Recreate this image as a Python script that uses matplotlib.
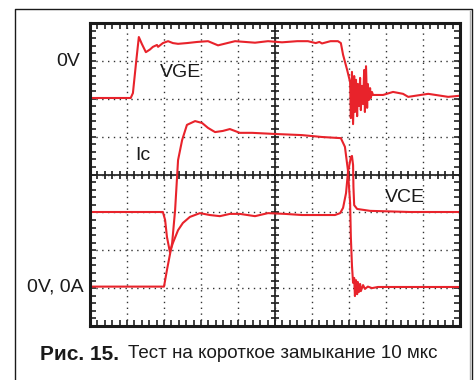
import numpy as np
import matplotlib
matplotlib.use("Agg")
import matplotlib.pyplot as plt
from matplotlib.lines import Line2D

# scope screen, x and y in divisions (10 x 8)
vge_x = [0, 1.10, 1.16, 1.25, 1.32, 1.40, 1.51, 1.62, 1.70, 1.81, 1.84, 1.97, 2.11, 2.24,
         2.38, 2.62, 2.90, 3.19, 3.46, 3.92, 4.46, 4.81, 5.19, 5.60, 5.89, 6.10, 6.20,
         6.27, 6.50, 6.70, 6.78, 6.84, 6.95, 7.03,
         7.05, 7.08, 7.11, 7.14, 7.16, 7.19, 7.22, 7.24, 7.27, 7.30, 7.32, 7.35, 7.38,
         7.41, 7.43, 7.46, 7.49, 7.51, 7.54, 7.57, 7.59, 7.62, 7.65,
         7.92, 8.19, 8.46, 8.60, 9.14, 9.68, 10.0]
vge_y = [6.02, 6.02, 6.15, 7.00, 7.63, 7.45, 7.23, 7.30, 7.37, 7.42, 7.37, 7.47, 7.52, 7.47,
         7.45, 7.47, 7.50, 7.52, 7.41, 7.52, 7.48, 7.52, 7.49, 7.52, 7.52, 7.47, 7.50,
         7.46, 7.52, 7.52, 7.47, 7.16, 6.76, 6.44,
         5.49, 6.71, 5.33, 6.60, 5.65, 6.50, 5.54, 6.39, 5.81, 6.55, 5.70, 6.34, 5.86,
         6.76, 5.65, 6.86, 5.76, 6.39, 5.97, 6.28, 6.02, 6.18, 6.10,
         6.10, 6.18, 6.13, 6.05, 6.13, 6.05, 6.08]

ic_x = [0, 2.00, 2.08, 2.22, 2.30, 2.38, 2.49, 2.62, 2.84, 3.03, 3.19, 3.38, 3.59, 3.78,
        4.05, 4.38, 5.00, 5.73, 6.27, 6.78, 6.89, 6.97, 7.03, 7.05, 7.08, 7.11,
        7.14, 7.16, 7.19, 7.22, 7.24, 7.27, 7.30, 7.32, 7.38, 7.43, 7.51, 7.62, 7.78, 10.0]
ic_y = [1.04, 1.04, 1.48, 2.19, 3.06, 4.38, 4.91, 5.31, 5.41, 5.36, 5.23, 5.12, 5.15, 5.20,
        5.10, 5.10, 5.07, 5.04, 4.99, 4.96, 4.73, 4.12, 3.25, 2.35, 1.60, 1.14,
        1.27, 0.79, 1.21, 0.84, 1.16, 0.90, 1.11, 0.92, 1.08, 0.98, 1.04, 1.00, 1.03, 1.03]

vce_x = [0, 1.97, 2.03, 2.08, 2.16, 2.24, 2.38, 2.51, 2.70, 2.97, 3.24, 3.51, 3.78, 4.05,
         4.46, 4.81, 5.27, 5.73, 6.62, 6.76, 6.84, 6.92, 6.97, 7.05, 7.08, 7.11, 7.12,
         7.14, 7.22, 7.57, 8.65, 10.0]
vce_y = [3.01, 3.01, 2.80, 2.35, 1.95, 2.19, 2.53, 2.72, 2.88, 2.98, 2.93, 2.90, 2.96, 2.96,
         2.90, 2.98, 2.96, 2.93, 2.93, 2.98, 3.12, 3.51, 4.04, 4.46, 4.49, 4.25, 3.67,
         3.19, 3.09, 3.04, 3.01, 3.01]

red = "#e8232b"
W, H = 475, 380

fig = plt.figure(figsize=(4.75, 3.8), dpi=100)
ax = fig.add_axes([90 / W, 1 - 326 / H, 370 / W, 303 / H])

ax.plot(vge_x, vge_y, color=red, lw=1.5, solid_joinstyle="round")
ax.plot(ic_x, ic_y, color=red, lw=1.5, solid_joinstyle="round")
ax.plot(vce_x, vce_y, color=red, lw=1.5, solid_joinstyle="round")

ax.set_xlim(0, 10)
ax.set_ylim(0, 8)
ax.set_xticks(np.arange(0, 10.5, 1))
ax.set_yticks(np.arange(0, 8.5, 1))
ax.set_xticks(np.arange(0, 10.01, 0.2), minor=True)
ax.set_yticks(np.arange(0, 8.01, 0.2), minor=True)
ax.tick_params(which="both", direction="in", length=4, width=1.2, top=True, right=True,
               labelbottom=False, labelleft=False, color="#222222")
ax.grid(True, which="major", color="#333333", linestyle=(0, (1, 3.2)), linewidth=1.0)
for s in ax.spines.values():
    s.set_linewidth(2.2)
    s.set_color("#1a1a1a")

# center cross with small ticks
ax.axhline(4, color="#1a1a1a", lw=1.2, zorder=1)
ax.axvline(5, color="#1a1a1a", lw=1.2, zorder=1)
tx = np.arange(0, 10.01, 0.2)
ty = np.arange(0, 8.01, 0.2)
ax.plot(tx, np.full(len(tx), 4.0), ls="none", marker="|", ms=6, mew=1.2, color="#1a1a1a", zorder=1)
ax.plot(np.full(len(ty), 5.0), ty, ls="none", marker="_", ms=6, mew=1.2, color="#1a1a1a", zorder=1)

lab = dict(fontsize=14, family=["Liberation Sans", "DejaVu Sans"], color="#1a1a1a")
ax.text(1.89, 6.68, "VGE", va="center", ha="left", **lab)
ax.text(1.22, 4.51, "Ic", va="center", ha="left", **lab)
ax.text(7.97, 3.38, "VCE", va="center", ha="left", **lab)
fig.text(80 / W, 1 - 62 / H, "0V", va="center", ha="right", **lab)
fig.text(84 / W, 1 - 287 / H, "0V, 0A", va="center", ha="right", **lab)

cap = ["Liberation Sans", "DejaVu Sans"]
fig.text(40 / W, 1 - 354 / H, "Рис. 15.", fontsize=15, fontweight="bold", family=cap,
         va="center", ha="left", color="#1a1a1a")
fig.text(128 / W, 1 - 354 / H, "Тест на короткое замыкание 10 мкс", fontsize=13.5, family=cap,
         va="center", ha="left", color="#1a1a1a")

# outer frame
fig.add_artist(Line2D([15 / W, 15 / W, 472 / W, 472 / W], [-0.1, 1 - 9 / H, 1 - 9 / H, -0.1],
                      transform=fig.transFigure, color="#1a1a1a", lw=1.0))
fig.add_artist(Line2D([469.5 / W, 469.5 / W], [-0.1, 1 - 11 / H],
                      transform=fig.transFigure, color="#b0b0b0", lw=1.0))

plt.savefig("out.png", dpi=100)
plt.close()
